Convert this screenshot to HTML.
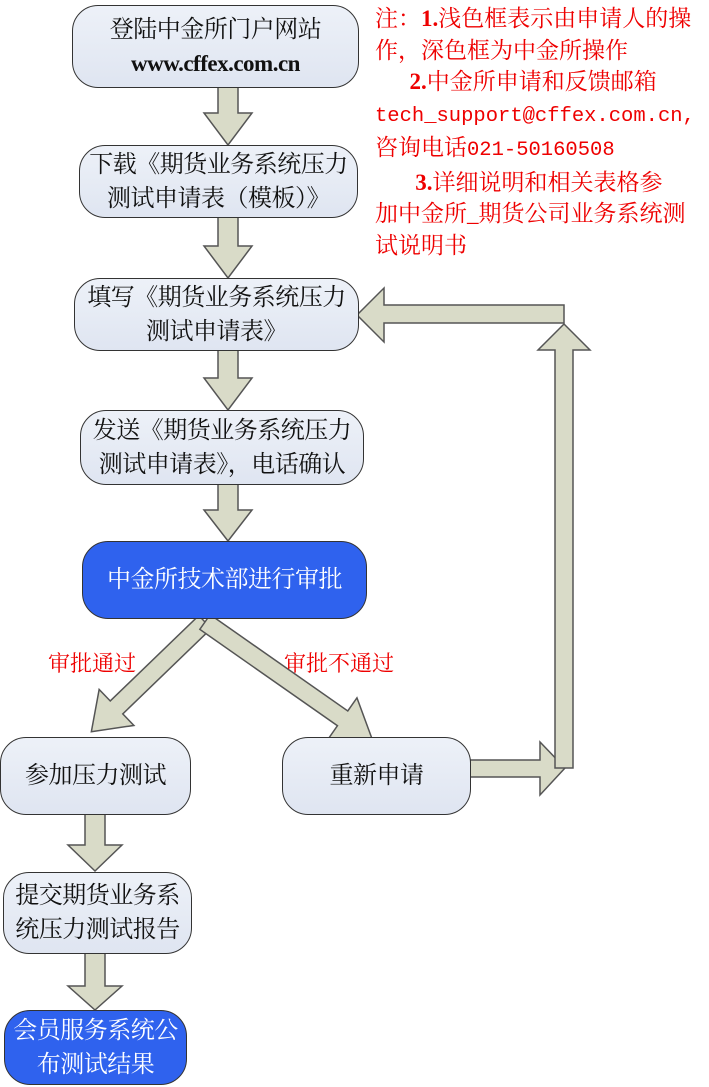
<!DOCTYPE html>
<html><head><meta charset="utf-8"><style>
body{margin:0;width:709px;height:1087px;background:#fff;position:relative;overflow:hidden;font-family:"Liberation Serif","Noto Serif CJK SC","Noto Sans CJK SC",serif;}
.b{position:absolute;box-sizing:border-box;border:1.5px solid #333;border-radius:26px;background:linear-gradient(#edf1f8,#dfe5f1);display:flex;flex-direction:column;align-items:center;justify-content:center;font-size:24px;line-height:34px;color:#111;font-family:"Liberation Serif","Noto Serif CJK SC",serif;white-space:nowrap;letter-spacing:-0.5px;}
.d{background:#2f62ee;color:#fff;}
.note{position:absolute;left:375px;top:3px;color:#e00;font-size:23px;line-height:31.5px;font-family:"Liberation Serif","Noto Serif CJK SC",serif;white-space:pre;}
.mono{font-family:"Liberation Mono",monospace;font-size:20.5px;}
.lbl{position:absolute;color:#e00;font-size:22px;font-family:"Liberation Serif","Noto Serif CJK SC",serif;}
svg{position:absolute;left:0;top:0;}
</style></head><body>
<svg width="709" height="1087">
<g fill="#d9dbc8" stroke="#555" stroke-width="1.5">
<polygon points="218,87 238,87 238,113 252,113 228,145 204,113 218,113"/>
<polygon points="218,217 238,217 238,246 252,246 228,278 204,246 218,246"/>
<polygon points="218,350 238,350 238,378 252,378 228,410 204,378 218,378"/>
<polygon points="218,484 238,484 238,510 252,510 228,541 204,510 218,510"/>
<polygon points="85,814 105,814 105,845 122,845 95,871 68,845 85,845"/>
<polygon points="85,953 105,953 105,986 122,986 95,1010 68,986 85,986"/>
<polygon points="470,760 540,760 540,742 565,768 540,795 540,777 470,777"/>
<polygon points="555,768 573,768 573,350 590,350 564,324 538,350 555,350"/>
<polygon points="564,305 564,323 384,323 384,342 357,315 384,288 384,305"/>
<g transform="translate(205,622) rotate(136)"><polygon points="0,-9 123,-9 123,-25 158,0 123,25 123,9 0,9"/></g>
<g transform="translate(205,622) rotate(35)"><polygon points="0,-9 168,-9 168,-25 204,0 168,25 168,9 0,9"/></g>
</g>
</svg>
<div class="b" style="left:72px;top:5px;width:287px;height:83px;"><span>登陆中金所门户网站</span><span style="font-family:'Liberation Serif',serif;font-weight:bold;font-size:23px;">www.cffex.com.cn</span></div>
<div class="b" style="left:79px;top:145px;width:279px;height:73px;"><span>下载《期货业务系统压力</span><span>测试申请表（模板）》</span></div>
<div class="b" style="left:74px;top:278px;width:285px;height:73px;"><span>填写《期货业务系统压力</span><span>测试申请表》</span></div>
<div class="b" style="left:80px;top:410px;width:284px;height:75px;"><span>发送《期货业务系统压力</span><span>测试申请表》，电话确认</span></div>
<div class="b d" style="left:82px;top:541px;width:285px;height:78px;"><span>中金所技术部进行审批</span></div>
<div class="b" style="left:0px;top:737px;width:191px;height:78px;"><span>参加压力测试</span></div>
<div class="b" style="left:282px;top:737px;width:189px;height:78px;"><span>重新申请</span></div>
<div class="b" style="left:3px;top:872px;width:189px;height:82px;"><span>提交期货业务系</span><span>统压力测试报告</span></div>
<div class="b d" style="left:4px;top:1010px;width:183px;height:75px;"><span>会员服务系统公</span><span>布测试结果</span></div>
<div class="lbl" style="left:48px;top:647px;">审批通过</div>
<div class="lbl" style="left:284px;top:647px;">审批不通过</div>
<div class="note">注：<b>1.</b>浅色框表示由申请人的操
作，深色框为中金所操作
      <b>2.</b>中金所申请和反馈邮箱
<span class="mono">tech_support@cffex.com.cn,</span>
咨询电话<span class="mono">021-50160508</span>
       <b>3.</b>详细说明和相关表格参
加中金所_期货公司业务系统测
试说明书</div>
</body></html>
